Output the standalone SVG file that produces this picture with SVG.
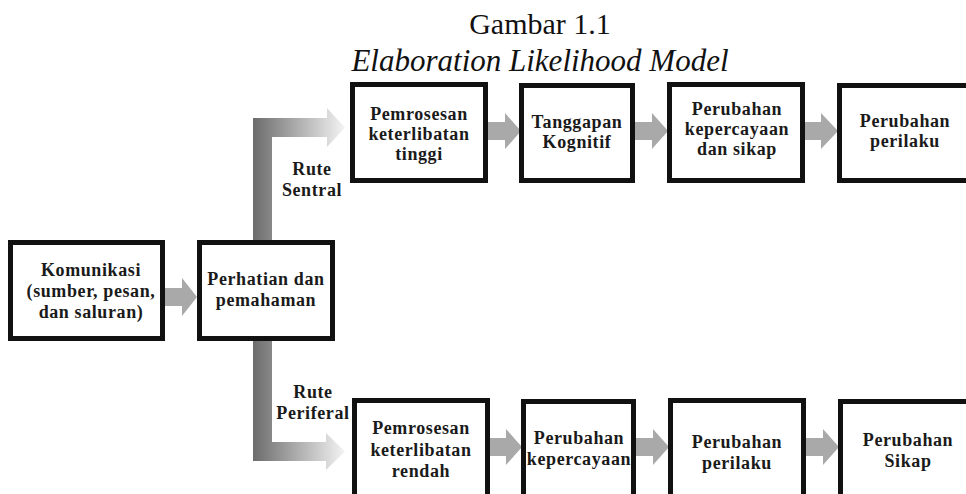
<svg xmlns="http://www.w3.org/2000/svg" width="966" height="494" viewBox="0 0 966 494">
  <style>
    .box { fill: #ffffff; stroke: #111111; stroke-width: 5; }
    .lbl { font-family: "Liberation Serif", "Times New Roman", serif; font-weight: bold; font-size: 18px; letter-spacing: 0.6px; text-anchor: middle; fill: #1a1a1a; }
    .title { font-family: "Liberation Serif", "Times New Roman", serif; text-anchor: middle; fill: #111111; }
    .arr { fill: #a9a9a9; }
  </style>
  <defs>
    <linearGradient id="gradRoute" gradientUnits="userSpaceOnUse" x1="253" y1="0" x2="344" y2="0">
      <stop offset="0" stop-color="#6c6c6c"/>
      <stop offset="1" stop-color="#f2f2f2"/>
    </linearGradient>
  </defs>

  <g id="title">
    <text class="title" x="540" y="34" font-size="30">Gambar 1.1</text>
    <text class="title" x="540" y="71" font-size="31" font-style="italic">Elaboration Likelihood Model</text>
  </g>

  <g id="connectors">
    <!-- Komunikasi -> Perhatian -->
    <path class="arr" d="M163,288 H182 V278 L197,297 L182,316 V306 H163 Z"/>
    <!-- central route elbow -->
    <path fill="url(#gradRoute)" d="M253,242 V118 H327 V108 L345,127.5 L327,147 V137 H272 V242 Z"/>
    <!-- peripheral route elbow -->
    <path fill="url(#gradRoute)" d="M253,339 V461 H326 V470 L345,451.5 L326,433 V442 H272 V339 Z"/>
    <!-- top row arrows -->
    <path class="arr" d="M486,122 H505 V113 L521,131 L505,149 V140 H486 Z"/>
    <path class="arr" d="M633,122 H652 V113 L668,131 L652,149 V140 H633 Z"/>
    <path class="arr" d="M803,122 H821 V113 L838,131 L821,149 V140 H803 Z"/>
    <!-- bottom row arrows -->
    <path class="arr" d="M488,438 H506 V429 L522,447 L506,465 V456 H488 Z"/>
    <path class="arr" d="M634,438 H653 V429 L669,447 L653,465 V456 H634 Z"/>
    <path class="arr" d="M804,438 H823 V429 L839,447 L823,465 V456 H804 Z"/>
  </g>

  <g id="komunikasi">
    <rect class="box" x="10.5" y="242.5" width="152" height="96"/>
    <text class="lbl" x="91" y="276">Komunikasi</text>
    <text class="lbl" x="91" y="297">(sumber, pesan,</text>
    <text class="lbl" x="91" y="318">dan saluran)</text>
  </g>

  <g id="perhatian">
    <rect class="box" x="199.5" y="242.5" width="133" height="96"/>
    <text class="lbl" x="266" y="285">Perhatian dan</text>
    <text class="lbl" x="266" y="306">pemahaman</text>
  </g>

  <g id="rute-sentral">
    <text class="lbl" x="312" y="175">Rute</text>
    <text class="lbl" x="312" y="196">Sentral</text>
  </g>

  <g id="rute-periferal">
    <text class="lbl" x="313" y="398">Rute</text>
    <text class="lbl" x="313" y="419">Periferal</text>
  </g>

  <g id="pemrosesan-tinggi">
    <rect class="box" x="352.5" y="84.5" width="133" height="96"/>
    <text class="lbl" x="419" y="120">Pemrosesan</text>
    <text class="lbl" x="419" y="140">keterlibatan</text>
    <text class="lbl" x="419" y="160">tinggi</text>
  </g>

  <g id="tanggapan-kognitif">
    <rect class="box" x="521.5" y="85.5" width="111" height="95"/>
    <text class="lbl" x="577" y="128">Tanggapan</text>
    <text class="lbl" x="577" y="148">Kognitif</text>
  </g>

  <g id="perubahan-kepercayaan-sikap">
    <rect class="box" x="669.5" y="84.5" width="133" height="96"/>
    <text class="lbl" x="737" y="115">Perubahan</text>
    <text class="lbl" x="737" y="135">kepercayaan</text>
    <text class="lbl" x="737" y="155">dan sikap</text>
  </g>

  <g id="perubahan-perilaku-atas">
    <rect class="box" x="839.5" y="85.5" width="140" height="95"/>
    <text class="lbl" x="905" y="127">Perubahan</text>
    <text class="lbl" x="905" y="147">perilaku</text>
  </g>

  <g id="pemrosesan-rendah">
    <rect class="box" x="354.5" y="400.5" width="133" height="110"/>
    <text class="lbl" x="421" y="434">Pemrosesan</text>
    <text class="lbl" x="421" y="456">keterlibatan</text>
    <text class="lbl" x="421" y="477">rendah</text>
  </g>

  <g id="perubahan-kepercayaan">
    <rect class="box" x="523.5" y="401.5" width="110" height="110"/>
    <text class="lbl" x="579" y="444">Perubahan</text>
    <text class="lbl" x="579" y="465">kepercayaan</text>
  </g>

  <g id="perubahan-perilaku-bawah">
    <rect class="box" x="670.5" y="400.5" width="133" height="110"/>
    <text class="lbl" x="737" y="448">Perubahan</text>
    <text class="lbl" x="737" y="469">perilaku</text>
  </g>

  <g id="perubahan-sikap">
    <rect class="box" x="840.5" y="401.5" width="140" height="110"/>
    <text class="lbl" x="908" y="446">Perubahan</text>
    <text class="lbl" x="908" y="467">Sikap</text>
  </g>
</svg>
